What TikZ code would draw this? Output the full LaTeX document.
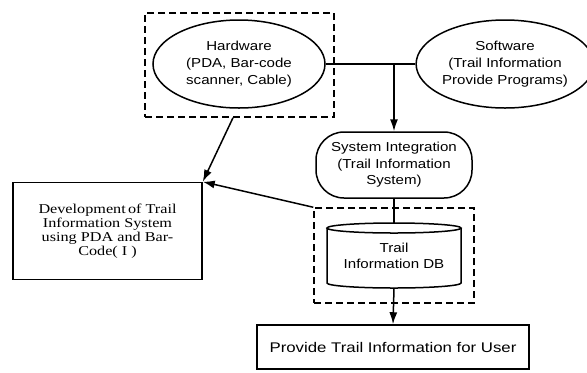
\documentclass[tikz,border=0pt]{standalone}
\usepackage{fontspec}
\setmainfont{Liberation Serif}[FakeStretch=1.2]
\newfontfamily\partfont{Liberation Sans}[FakeStretch=1.16]
\newfontfamily\userfont{Liberation Sans}[FakeStretch=1.2]
\usepackage{tikz}
\usetikzlibrary{shapes.geometric,arrows.meta,calc,positioning}
\tikzstyle{flow}=[
  x=1bp,y=-1bp,line width=1.5bp,>={Latex[length=12bp,width=8bp]}
]
\tikzstyle{part}=[
  draw,ellipse,inner sep=0pt,align=center,
  font=\partfont\fontsize{13bp}{16.7bp}\selectfont
]
\tikzstyle{integ}=[
  draw,rectangle,rounded corners=28bp,inner sep=0pt,align=center,
  minimum width=156bp,minimum height=66bp,
  font=\partfont\fontsize{13bp}{16.5bp}\selectfont
]
\tikzstyle{group}=[
  draw,rectangle,dash pattern=on 7bp off 4bp
]
\tikzstyle{devbox}=[
  draw,rectangle,align=center,minimum width=189bp,minimum height=97bp,
  font=\fontsize{13.5bp}{14bp}\selectfont
]
\tikzstyle{userbox}=[
  draw,rectangle,minimum width=272bp,minimum height=44bp,
  font=\userfont\fontsize{14bp}{16bp}\selectfont
]

\begin{document}
\begin{tikzpicture}[flow]
    \useasboundingbox (0,0) rectangle (587,372);

    % dashed groups
    \node (hwbox) at (239.5,65) [group,minimum width=189bp,minimum height=104bp] {};
    \node (dbbox) at (394,255.5) [group,minimum width=160bp,minimum height=95bp] {};

    \node (hw) at (239,64) [part,minimum width=172bp,minimum height=88bp]
      {Hardware\\(PDA, Bar-code\\scanner, Cable)};
    \node (sw) at (505,64) [part,minimum width=163bp,minimum height=88bp]
      {Software\\(Trail Information\\Provide Programs)};
    \node (si) at (394,165) [integ]
      {System Integration\\(Trail Information\\System)};

    % database cylinder
    \draw (394,228) ellipse [x radius=67,y radius=5];
    \draw (327,228) -- (327,283) arc (180:0:67 and 5) -- (461,228);
    \node (db) at (394,256) [align=center,font=\partfont\fontsize{13bp}{16.5bp}\selectfont]
      {Trail\\Information DB};
    \coordinate (dbtop) at (394,223);
    \coordinate (dbbot) at (394,288);

    \node (dev) at (107.5,231) [devbox]
      {Development\,of Trail\\Information System\\using PDA and Bar-\\Code( I )};
    \node (user) at (393,347) [userbox] {Provide Trail Information for User};

    \coordinate (j) at (394,64);
    \draw (hw.east) -- (sw.west);
    \draw [->] (j) -- (si.north);
    \draw (si.south) -- (dbtop);
    \draw [->] (dbbot) -- (user.north);
    \draw [->] ($(hwbox.south)+(-6.5,0)$) -- (dev.north east);
    \draw [->] (dbbox.north west) -- (dev.north east);

\end{tikzpicture}
\end{document}
